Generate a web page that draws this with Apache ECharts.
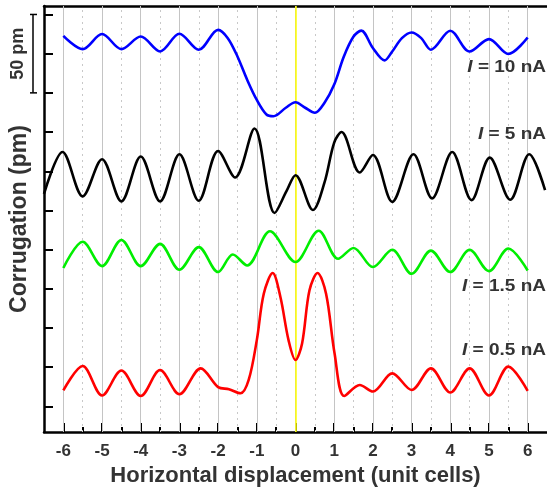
<!DOCTYPE html>
<html>
<head>
<meta charset="utf-8">
<script src="https://cdn.jsdelivr.net/npm/echarts@6/dist/echarts.min.js"></script>
<style>
html, body { margin: 0; padding: 0; background: #fff; }
#chart { width: 547px; height: 492px; }
</style>
</head>
<body>
<div id="chart"></div>
<script>
// tick positions
var xTicks = [-6, -5, -4, -3, -2, -1, 0, 1, 2, 3, 4, 5, 6];
var xHalf = [-5.5, -4.5, -3.5, -2.5, -1.5, -0.5, 0.5, 1.5, 2.5, 3.5, 4.5, 5.5];
var yTicks = [0, 25, 50, 75, 100, 125, 150, 175, 200, 225, 250];
var scaleBar = [200, 250];

// curve labels and where they sit (pm)
var labelNames = ['10 nA', '5 nA', '1.5 nA', '0.5 nA'];
var labelY = [215.9, 173.3, 76.7, 35.4];

// corrugation profiles, offset for display (x in unit cells, y in pm)
var curve10 = [[-6, 236.4], [-5.5, 227.9], [-5, 237.5], [-4.5, 227.9], [-4, 235.9], [-3.5, 226.4],
    [-3, 237.7], [-2.5, 227.5], [-2, 240.2], [-1.75, 234.9], [-1.5, 223.2], [-1.25, 208.4],
    [-1, 195.5], [-0.75, 186.2], [-0.57, 185.1], [-0.25, 190.5], [0, 194.0], [0.25, 190.5],
    [0.5, 187.3], [0.75, 193.7], [1, 205.3], [1.25, 223.2], [1.5, 235.9], [1.7, 239.7],
    [2, 228.6], [2.3, 220.7], [2.5, 226.4], [2.75, 234.9], [3, 238.5], [3.25, 234.9],
    [3.5, 227.5], [4, 239.6], [4.5, 226.4], [5, 234.3], [5.5, 224.8], [6, 235.3]];
var curve5 = [[-6.5, 135.5], [-6.02, 162.3], [-5.5, 134.0], [-5, 157.7], [-4.5, 130.8], [-4, 159.4],
    [-3.5, 130.8], [-3, 160.8], [-2.5, 131.2], [-2, 162.9], [-1.56, 146.0], [-1.06, 177.3],
    [-0.54, 123.4], [-0.23, 137.5], [0, 147.5], [0.45, 125.3], [0.75, 142.9], [1.0, 168.3],
    [1.19, 175.0], [1.66, 149.2], [2, 160.4], [2.5, 130.5], [3.05, 160.8], [3.53, 132.7],
    [4.05, 162.3], [4.55, 131.6], [5.02, 158.7], [5.55, 131.8], [6.04, 160.8], [6.45, 138.0]];
var curve15 = [[-6, 88.3], [-5.5, 105.0], [-5, 89.5], [-4.5, 106.2], [-4, 89.5], [-3.5, 103.7],
    [-3, 87.2], [-2.5, 101.6], [-2, 85.7], [-1.62, 96.9], [-1.25, 89.9], [-0.66, 111.7],
    [0, 92.1], [0.6, 112.1], [1.1, 94.2], [1.5, 101.1], [2, 88.9], [2.5, 99.9], [3, 84.6],
    [3.5, 99.4], [4, 85.7], [4.5, 99.9], [5, 86.3], [5.5, 100.7], [6, 86.7]];
var curve05 = [[-6, 10.2], [-5.5, 25.8], [-5, 7.0], [-4.5, 22.9], [-4, 6.7], [-3.5, 23.2],
    [-3, 7.8], [-2.45, 24.3], [-2.0, 12.3], [-1.72, 11.0], [-1.42, 8.4], [-1.21, 16.9],
    [-1.0, 42.3], [-0.82, 71.9], [-0.59, 85.1], [-0.39, 69.8], [-0.18, 42.3], [0, 29.6],
    [0.17, 40.2], [0.36, 74.0], [0.57, 85.1], [0.79, 71.9], [1.01, 33.8], [1.26, 6.7],
    [1.66, 13.7], [2, 9.5], [2.5, 21.1], [3, 10.5], [3.5, 24.3], [4, 8.9], [4.5, 24.3],
    [5, 7.0], [5.5, 25.4], [6, 9.9]];

var font = "'Liberation Sans', Arial, sans-serif";
var chart = echarts.init(document.getElementById('chart'));

function curve(name, data, color) {
    return {
        name: name,
        type: 'line',
        xAxisIndex: 0,
        yAxisIndex: 0,
        data: data,
        smooth: 0.33,
        symbol: 'none',
        lineStyle: { color: color, width: 2.6 },
        itemStyle: { color: color },
        z: 3,
        silent: true
    };
}

// vertical grid: solid at integers, dotted at half cells, yellow at 0
var gridMarks = xTicks.map(function (v) {
    return { xAxis: v, lineStyle: { color: '#c4c4c4', width: 1, type: 'solid' } };
}).concat(xHalf.map(function (v) {
    return { xAxis: v, lineStyle: { color: '#c8c8c8', width: 1, type: [2, 4] } };
}));
gridMarks.push({ xAxis: 0, lineStyle: { color: '#ffff00', width: 1.5, type: 'solid' } });

var option = {
    animation: false,
    grid: { left: 43.6, right: -3.6, top: 6, bottom: 58 },
    xAxis: [
        {
            type: 'value',
            position: 'bottom',
            min: -6.5,
            max: 6.5,
            interval: 0.5,
            axisLine: { onZero: false, lineStyle: { color: '#000', width: 2.5 } },
            axisTick: { inside: true, length: 9, customValues: xTicks, lineStyle: { color: '#000', width: 2 } },
            axisLabel: {
                customValues: xTicks,
                margin: 11,
                color: '#333',
                fontSize: 17,
                fontWeight: 'bold',
                fontFamily: font
            },
            splitLine: { show: false },
            name: 'Horizontal displacement (unit cells)',
            nameLocation: 'middle',
            nameGap: 33,
            nameTextStyle: { color: '#333', fontSize: 22, fontWeight: 'bold', fontFamily: font }
        },
        {
            type: 'value',
            position: 'bottom',
            min: -6.5,
            max: 6.5,
            interval: 0.5,
            axisLine: { show: false, onZero: false },
            axisTick: { inside: true, length: 5, customValues: xHalf, lineStyle: { color: '#000', width: 2 } },
            axisLabel: { show: false },
            splitLine: { show: false }
        },
        {
            type: 'value',
            position: 'top',
            min: -6.5,
            max: 6.5,
            axisLine: { onZero: false, lineStyle: { color: '#000', width: 2.5 } },
            axisTick: { show: false },
            axisLabel: { show: false },
            splitLine: { show: false }
        }
    ],
    yAxis: {
        type: 'value',
        min: -16.3,
        max: 255.4,
        axisLine: { onZero: false, lineStyle: { color: '#000', width: 2.5 } },
        axisTick: { inside: true, length: 9, customValues: yTicks, lineStyle: { color: '#000', width: 2 } },
        axisLabel: { show: false },
        splitLine: { show: false },
        name: 'Corrugation (pm)',
        nameLocation: 'middle',
        nameGap: 13,
        nameTextStyle: { color: '#333', fontSize: 23, fontWeight: 'bold', fontFamily: font }
    },
    series: [
        {
            type: 'line',
            data: [],
            z: 1,
            silent: true,
            markLine: {
                z: 1,
                silent: true,
                symbol: ['none', 'none'],
                label: { show: false },
                animation: false,
                data: gridMarks
            }
        },
        curve('I = 10 nA', curve10, '#0000ff'),
        curve('I = 5 nA', curve5, '#000000'),
        curve('I = 1.5 nA', curve15, '#00ee00'),
        curve('I = 0.5 nA', curve05, '#ff0000')
    ]
};

chart.setOption(option);

// scale bar and curve labels, placed through the y scale
var py = function (v) { return chart.convertToPixel({ yAxisIndex: 0 }, v); };
var barTop = py(scaleBar[1]);
var barBot = py(scaleBar[0]);
var graphics = [
    { type: 'line', shape: { x1: 33, y1: barTop, x2: 33, y2: barBot }, style: { stroke: '#000', lineWidth: 1.5 } },
    { type: 'line', shape: { x1: 30, y1: barTop, x2: 37, y2: barTop }, style: { stroke: '#000', lineWidth: 1.5 } },
    { type: 'line', shape: { x1: 30, y1: barBot, x2: 37, y2: barBot }, style: { stroke: '#000', lineWidth: 1.5 } },
    {
        type: 'text', x: 18.5, y: (barTop + barBot) / 2, rotation: Math.PI / 2,
        style: {
            text: '50 pm', fill: '#333', fontSize: 18, fontWeight: 'bold', fontFamily: font,
            align: 'center', verticalAlign: 'middle'
        }
    }
];
labelNames.forEach(function (n, i) {
    graphics.push({
        type: 'text', x: 546, y: py(labelY[i]), z: 10, scaleY: 0.86,
        style: {
            text: '{i|I} = ' + n, fill: '#333', fontSize: 19, fontWeight: 'bold', fontFamily: font,
            align: 'right', verticalAlign: 'middle',
            rich: { i: { fill: '#333', fontSize: 19, fontWeight: 'bold', fontStyle: 'italic', fontFamily: font } }
        }
    });
});
chart.setOption({ graphic: graphics });

window.addEventListener('resize', function () {
    chart.resize();
});
</script>
</body>
</html>
